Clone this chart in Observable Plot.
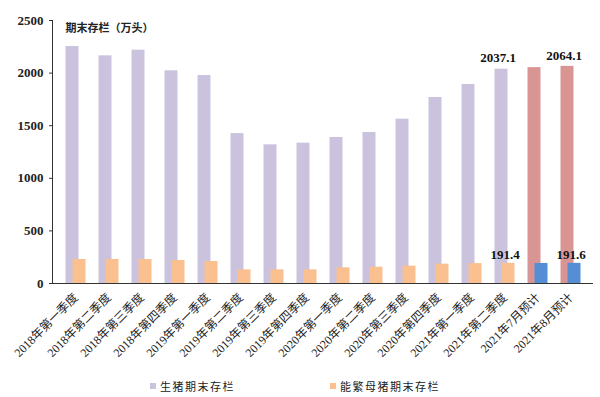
<!DOCTYPE html>
<html>
<head>
<meta charset="utf-8">
<script src="https://cdn.jsdelivr.net/npm/d3@7"></script>
<script src="https://cdn.jsdelivr.net/npm/@observablehq/plot@0.6"></script>
<style>
  html, body { margin: 0; padding: 0; background: #fff; }
  #chart { width: 600px; height: 397px; position: relative; overflow: hidden; }
  .legend { position: absolute; top: 377px; left: 0; width: 600px; height: 18px;
    font-family: "Liberation Serif", "Noto Sans CJK SC", serif; font-size: 11px; letter-spacing: 1.5px; color: #222; }
  .legend .item { position: absolute; top: 0; display: flex; align-items: center; height: 18px; }
  .legend .sw { width: 6px; height: 6px; margin-right: 4px; }
</style>
</head>
<body>
<div id="chart"></div>
<script>
const categories = [
  "2018年第一季度", "2018年第二季度", "2018年第三季度", "2018年第四季度",
  "2019年第一季度", "2019年第二季度", "2019年第三季度", "2019年第四季度",
  "2020年第一季度", "2020年第二季度", "2020年第三季度", "2020年第四季度",
  "2021年第一季度", "2021年第二季度", "2021年7月预计", "2021年8月预计"
];
const pigStock = [2253, 2164, 2218, 2022, 1977, 1425, 1318, 1334, 1388, 1435, 1562, 1768, 1892, 2037.1, 2052, 2064.1];
const sowStock = [228, 228, 228, 219, 209, 130, 130, 130, 149, 155, 165, 184, 189, 191.4, 190, 191.6];
const forecast = [false, false, false, false, false, false, false, false, false, false, false, false, false, false, true, true];
const yTicks = [0, 500, 1000, 1500, 2000, 2500];
const labeledPig = ["2021年第二季度", "2021年8月预计"];
const labeledSow = ["2021年第二季度", "2021年8月预计"];
const seriesNames = ["生猪期末存栏", "能繁母猪期末存栏"];
const yTitle = "期末存栏（万头）";

const colors = { pig: "#CBC3DD", sow: "#FAC090", pigF: "#D99594", sowF: "#558ED5" };

const rows = categories.map((c, i) => ({ cat: c, pig: pigStock[i], sow: sowStock[i], f: forecast[i] }));

const serif = "'Liberation Serif', 'Noto Sans CJK SC', serif";

const plot = Plot.plot({
  width: 600,
  height: 377,
  marginLeft: 52,
  marginRight: 7,
  marginTop: 20,
  marginBottom: 94,
  style: { fontFamily: serif, fontSize: "11px", color: "#222", background: "transparent" },
  x: { domain: categories, paddingInner: 0.615, paddingOuter: 0.34, label: null },
  y: { domain: [0, 2500], label: null },
  color: { type: "identity" },
  marks: [
    Plot.barY(rows, { x: "cat", y: "pig", fill: d => d.f ? colors.pigF : colors.pig, dx: -3.5 }),
    Plot.barY(rows, { x: "cat", y: "sow", fill: d => d.f ? colors.sowF : colors.sow, dx: 3.5 }),
    Plot.ruleY([0], { stroke: "#333", strokeWidth: 1 }),
    Plot.axisY({ ticks: yTicks, tickFormat: d3.format("d"), tickSize: 3, tickPadding: 6, fontWeight: "bold", fontSize: 13, stroke: "#333", label: null }),
    Plot.frame({ anchor: "left", stroke: "#333" }),
    Plot.axisX({ tickSize: 0, tickRotate: -45, tickPadding: 12, fontSize: 12, label: null, style: { letterSpacing: "1.3px" } }),
    Plot.text(rows.filter(d => labeledPig.includes(d.cat)), {
      x: "cat", y: "pig", text: d => d.pig.toFixed(1), dx: -7, dy: -11,
      fontWeight: "bold", fontSize: 13, fill: "#111"
    }),
    Plot.text(rows.filter(d => labeledSow.includes(d.cat)), {
      x: "cat", y: "sow", text: d => d.sow.toFixed(1), dx: 0, dy: -9,
      fontWeight: "bold", fontSize: 13, fill: "#111"
    }),
    Plot.text([yTitle], { frameAnchor: "top-left", dx: 13, dy: 4, fontSize: 11, fontWeight: "bold", fill: "#222", style: { letterSpacing: "1px" } })
  ]
});

const chart = document.getElementById("chart");
chart.appendChild(plot);

const legend = document.createElement("div");
legend.className = "legend";
const legendItems = [
  { name: seriesNames[0], color: colors.pig, left: 150 },
  { name: seriesNames[1], color: colors.sow, left: 330 }
];
for (const it of legendItems) {
  const item = document.createElement("div");
  item.className = "item";
  item.style.left = it.left + "px";
  const sw = document.createElement("span");
  sw.className = "sw";
  sw.style.background = it.color;
  const tx = document.createElement("span");
  tx.textContent = it.name;
  item.appendChild(sw);
  item.appendChild(tx);
  legend.appendChild(item);
}
chart.appendChild(legend);
</script>
</body>
</html>
